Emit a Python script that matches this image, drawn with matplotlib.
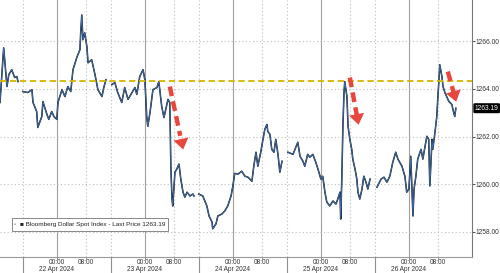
import matplotlib
matplotlib.use("Agg")
import matplotlib.pyplot as plt
from matplotlib.patches import Rectangle
import numpy as np

plt.rcParams["font.family"] = ["Liberation Sans Narrow", "Liberation Sans", "DejaVu Sans"]

# hours since 22 Apr 2024 00:00, NaN breaks the line between sessions
hours = [
    -15.5, -14.5, -13.6, -13.1, -12.3, -11.5, -10.9, -10.6, np.nan,
    -9.3, -7.9, -6.8, -6.5, -5.5, -5.2, -4.1, -3.8, -2.7, -2.2, -1.4, -0.8, 0.0,
    0.3, 1.4, 2.2, 3.0, 3.8, 4.4, 5.5, 6.3, 6.5, 6.8, 7.1, 7.6, 8.2, 8.5, 9.5,
    10.4, 11.2, 12.3, 12.8, 13.4, np.nan,
    15.0, 15.8, 16.6, 17.7, 18.5, 19.4, 20.5, 21.3, 21.8, 22.6, 23.5, 24.0,
    24.5, 24.8, 25.4, 26.2, 27.3, 27.8, 28.6, 29.2, 29.7, 30.3, 30.8, 31.1,
    31.4, 31.6, 32.2, 32.7, 33.3, 33.8, 34.4, 34.9, 35.5, 36.3, 37.1, 37.4, np.nan,
    38.7, 39.8, 40.9, 41.5, 42.3, 42.5, 43.4, 43.9, 45.0, 45.8, 46.6, 47.5,
    48.0, 48.5, 49.4, 50.4, 51.3, 52.1, 53.2, 53.7, 54.3, 54.8, 55.6, 56.2,
    56.7, 57.3, 57.5, 58.1, 58.6, 59.2, 59.7, 60.3, 60.8, 61.4, np.nan,
    63.0, 64.4, 65.7, 66.3, 67.1, 67.6, 68.4, 69.0, 69.8, 70.6, 71.2, 72.0,
    72.5, 73.1, 73.6, 74.4, 75.3, 76.1, 76.6, 77.2, 77.4, 77.7, 78.0, 78.3,
    78.5, 79.1, 79.4, 79.9, 80.4, 80.7, 81.3, 81.8, 82.1, 82.6, 83.2, 83.7,
    84.3, 84.8, 85.4, np.nan,
    87.3, 88.4, 89.2, 90.0, 90.8, 91.6, 92.4, 93.0, 94.1, 94.9, 95.4, 96.0,
    96.5, 97.1, 97.4, 97.9, 98.4, 99.3, 99.8, 100.4, 100.9, 101.4, 101.7,
    102.3, 102.5, 103.1, 103.6, 103.9, 104.2, 104.4, 105.0, 105.3, 105.8,
    106.4, 106.9, 107.7, 108.0, 108.5, 108.8,
]
prices = [
    1263.43, 1265.73, 1264.10, 1264.60, 1264.81, 1264.48, 1264.52, 1264.31, np.nan,
    1263.89, 1263.85, 1263.97, 1263.43, 1263.05, 1262.38, 1262.84, 1263.47, 1262.93, 1262.72, 1263.05, 1262.84, 1262.72,
    1263.43, 1263.97, 1263.68, 1264.10, 1263.89, 1264.81, 1265.35, 1265.65, 1266.36, 1267.11, 1266.07, 1266.36, 1265.77, 1265.10, 1265.23,
    1264.60, 1263.97, 1263.68, 1264.06, 1264.39, np.nan,
    1264.18, 1264.27, 1263.85, 1263.43, 1264.06, 1263.56, 1263.85, 1264.06, 1263.77, 1264.52, 1264.81, 1264.39,
    1262.84, 1262.43, 1263.01, 1263.97, 1264.06, 1264.31, 1263.26, 1262.80, 1263.14, 1263.56, 1263.43, 1260.63,
    1259.37, 1259.08, 1260.50, 1260.63, 1260.84, 1260.21, 1259.66, 1259.45, 1259.66, 1259.50, 1259.58, 1259.50, np.nan,
    1259.58, 1259.50, 1259.08, 1258.66, 1258.41, 1258.12, 1258.33, 1258.66, 1258.74, 1258.87, 1259.08, 1259.50,
    1259.92, 1260.45, 1260.42, 1260.54, 1260.33, 1260.29, 1260.12, 1260.75, 1261.34, 1260.75, 1261.34, 1261.88,
    1262.30, 1262.51, 1262.22, 1262.09, 1261.46, 1261.34, 1261.88, 1261.25, 1260.50, 1260.96, np.nan,
    1261.34, 1261.25, 1261.76, 1261.17, 1260.96, 1260.75, 1261.25, 1261.13, 1261.25, 1260.92, 1260.63, 1260.21,
    1260.33, 1259.66, 1259.25, 1259.08, 1259.29, 1259.16, 1259.37, 1259.66, 1258.53, 1260.21, 1262.43, 1263.85,
    1264.31, 1263.68, 1262.43, 1261.88, 1261.46, 1261.05, 1260.63, 1260.21, 1259.66, 1259.37, 1259.79, 1260.33,
    1260.08, 1259.79, 1260.21, np.nan,
    1259.87, 1260.21, 1260.29, 1260.08, 1260.33, 1260.92, 1261.34, 1261.05, 1260.75, 1260.33, 1259.66, 1259.79,
    1261.17, 1258.66, 1259.79, 1260.33, 1261.05, 1261.46, 1261.05, 1261.59, 1262.01, 1261.88, 1259.92,
    1261.88, 1261.46, 1262.17, 1262.84, 1263.68, 1264.39, 1265.02, 1264.52, 1264.10, 1263.85,
    1263.64, 1263.47, 1263.35, 1263.14, 1262.84, 1263.19,
]
last_price = 1263.19
ref_level = 1264.32

# red arrows: (start hour, start price, end hour, end price)
arrows = [
    (30.8, 1264.10, 34.6, 1261.34),
    (79.9, 1264.48, 82.4, 1262.38),
    (106.6, 1264.73, 109.1, 1263.35),
]

yticks = [1258, 1260, 1262, 1264, 1266]
day_ticks = [0, 24, 48, 72, 96]
day_names = ["22 Apr 2024", "23 Apr 2024", "24 Apr 2024", "25 Apr 2024", "26 Apr 2024"]
session_breaks = [-9.3, 14.7, 38.7, 62.7, 86.7]

fig = plt.figure(figsize=(5.0, 2.73), dpi=100)
ax_bottom = 0.06
ax = fig.add_axes([0.0, ax_bottom, 0.944, 1 - ax_bottom])

grid_col = "#bcbcbc"
for d in day_ticks:
    ax.axvline(d, color="#a0a0a0", lw=0.8, zorder=1)
    ax.axvline(d + 8, color=grid_col, lw=0.8, ls=(0, (1, 2.2)), zorder=1)
for s in session_breaks:
    ax.axvline(s, color=grid_col, lw=0.8, ls=(0, (1, 2.2)), zorder=1)
    ax.plot([s, s], [0, -ax_bottom / (1 - ax_bottom)], transform=ax.get_xaxis_transform(),
            color="#909090", lw=0.8, clip_on=False)
for y in yticks:
    ax.axhline(y, color=grid_col, lw=0.8, ls=(0, (1, 2.2)), zorder=1)

ax.plot(hours, prices, color="#111111", lw=1.1, zorder=3)
ax.plot(hours, prices, color="#3f74b8", lw=0.6, zorder=4)

ax.axhline(ref_level, color="#d6b400", lw=1.3, ls=(0, (3.5, 2)), zorder=5)

red = "#e8473e"
for x0, y0, x1, y1 in arrows:
    xm = x0 + (x1 - x0) * 0.75
    ym = y0 + (y1 - y0) * 0.75
    ax.plot([x0, xm], [y0, ym], color=red, lw=3.2, ls=(0, (2.2, 1.2)),
            solid_capstyle="butt", zorder=6)
    ax.annotate("", xy=(x1, y1), xytext=(xm, ym),
                arrowprops=dict(arrowstyle="-|>,head_width=0.5,head_length=0.7",
                                color=red, lw=0, mutation_scale=11), zorder=6)

ax.set_xlim(-15.5, 113.2)
ax.set_ylim(1256.95, 1267.74)

ax.yaxis.tick_right()
ax.set_yticks(yticks)
ax.set_yticklabels([f"{v:.2f}" for v in yticks])
ax.tick_params(axis="y", labelsize=4.8, length=2, width=0.8, color="#555555",
               pad=0.8, labelcolor="#333333")

xt, xl = [], []
for d, name in zip(day_ticks, day_names):
    xt += [d, d + 8]
    xl += [f"00:00\n{name}", "08:00"]
ax.set_xticks(xt)
ax.set_xticklabels(xl, va="top", linespacing=0.95)
ax.tick_params(axis="x", labelsize=4.7, length=1.2, width=0.6, color="#777777",
               pad=0.5, labelcolor="#333333")

for side in ["left", "top"]:
    ax.spines[side].set_visible(False)
ax.spines["right"].set_color("#777777")
ax.spines["bottom"].set_color("#999999")

# last price tag on the right axis
ax.text(1.006, last_price, f"{last_price:.2f}", transform=ax.get_yaxis_transform(),
        ha="left", va="center", fontsize=4.8, color="white",
        bbox=dict(boxstyle="round,pad=0.12", fc="black", ec="black"), zorder=10)

# legend box
ax.add_patch(Rectangle((0.025, 0.10), 0.331, 0.05, transform=ax.transAxes,
                       fc="white", ec="#888888", lw=0.7, zorder=10))
ax.text(0.029, 0.125, "\u25aa", transform=ax.transAxes, fontsize=4.5, color="#aaaaaa",
        va="center", zorder=11)
ax.text(0.043, 0.125, "\u25a0 Bloomberg Dollar Spot Index - Last Price 1263.19",
        transform=ax.transAxes, fontsize=4.6, color="#222222", va="center", zorder=11)

fig.savefig("out.png", dpi=100)
